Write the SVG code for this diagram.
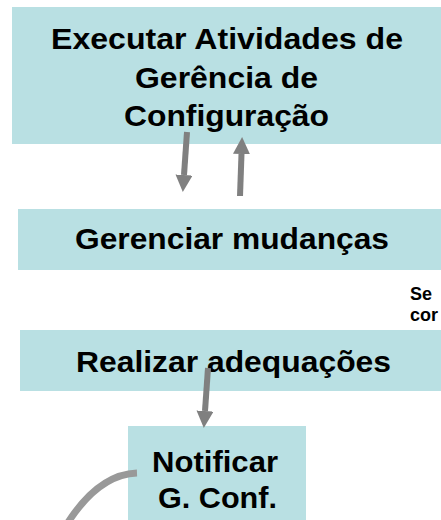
<svg xmlns="http://www.w3.org/2000/svg" width="441" height="520" viewBox="0 0 441 520">
<style>
.box{fill:#b9e0e3;}
.t{font-family:"Liberation Sans",Arial,sans-serif;font-weight:bold;font-size:30px;fill:#000;}
.s{font-family:"Liberation Sans",Arial,sans-serif;font-weight:bold;font-size:18px;fill:#000;}
.arr{stroke:#808080;stroke-width:6;fill:none;}
.curve{stroke:#999999;stroke-width:7;fill:none;}
</style>
<defs>
<marker id="ah" markerUnits="userSpaceOnUse" markerWidth="18" markerHeight="18" refX="0" refY="8.5" orient="auto">
<path d="M0,0 L17,8.5 L0,17 z" fill="#808080"/>
</marker>
</defs>
<rect width="441" height="520" fill="#ffffff"/>
<g id="executar">
<rect class="box" x="12" y="7" width="435" height="137"/>
<text class="t" x="51" y="49" textLength="352" lengthAdjust="spacingAndGlyphs">Executar Atividades de</text>
<text class="t" x="135" y="87.5" textLength="183" lengthAdjust="spacingAndGlyphs">Gerência de</text>
<text class="t" x="124" y="126" textLength="205" lengthAdjust="spacingAndGlyphs">Configuração</text>
</g>
<g id="gerenciar">
<rect class="box" x="18" y="209" width="429" height="61"/>
<text class="t" x="75" y="249" textLength="314" lengthAdjust="spacingAndGlyphs">Gerenciar mudanças</text>
</g>
<g id="nota">
<text class="s" x="410" y="300">Se</text>
<text class="s" x="410" y="321">cor</text>
</g>
<g id="realizar">
<rect class="box" x="20" y="330" width="427" height="61"/>
<text class="t" x="76" y="372" textLength="315" lengthAdjust="spacingAndGlyphs">Realizar adequações</text>
</g>
<g id="notificar">
<rect class="box" x="128" y="426" width="178" height="100"/>
<text class="t" x="152" y="472" textLength="126" lengthAdjust="spacingAndGlyphs">Notificar</text>
<text class="t" x="158" y="508" textLength="119" lengthAdjust="spacingAndGlyphs">G. Conf.</text>
</g>
<g id="connectors">
<line class="arr" x1="187" y1="132" x2="184" y2="175" marker-end="url(#ah)"/>
<line class="arr" x1="240" y1="196" x2="241.5" y2="154" marker-end="url(#ah)"/>
<line class="arr" x1="208" y1="368" x2="205" y2="411" marker-end="url(#ah)"/>
<path class="curve" d="M137,473 C110,474 86,494 67,524"/>
</g>
</svg>
